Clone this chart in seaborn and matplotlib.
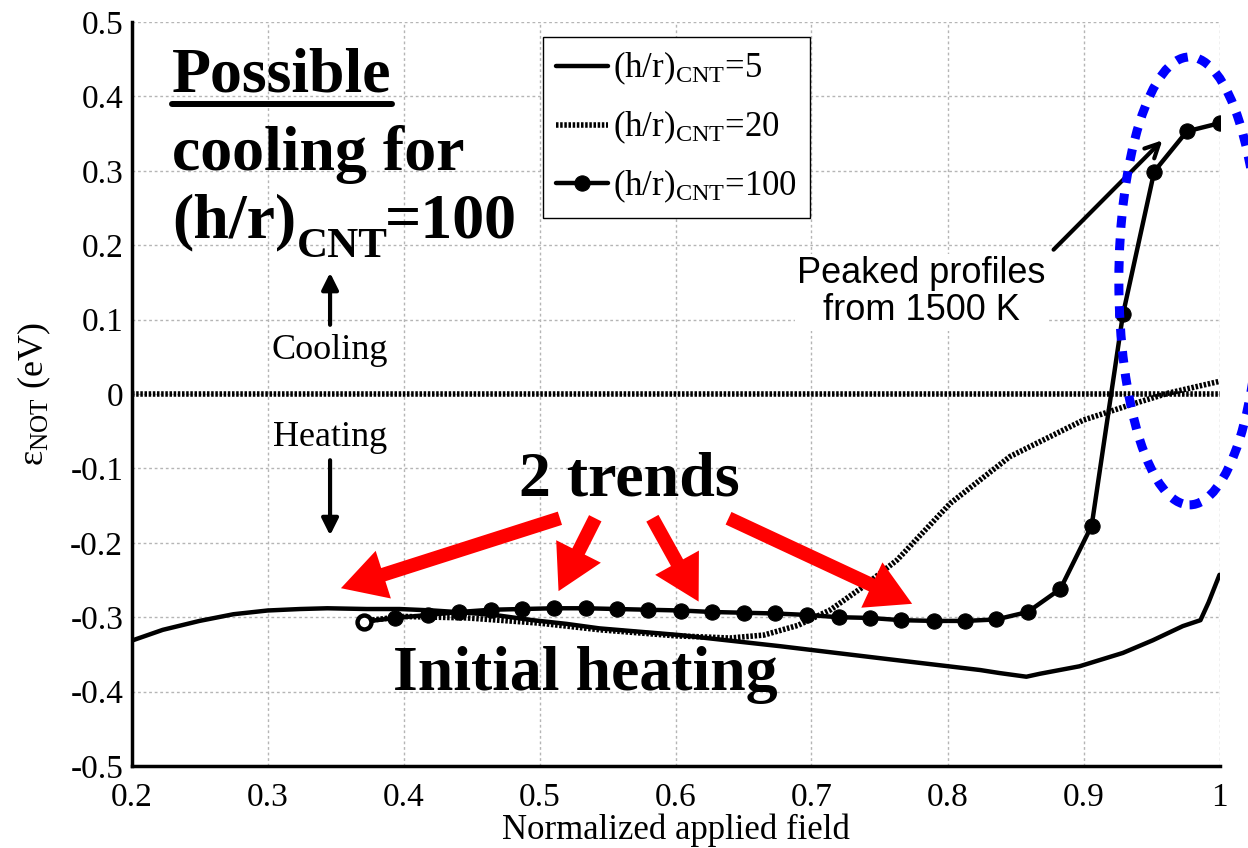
import seaborn as sns
import matplotlib.pyplot as plt
from matplotlib.lines import Line2D
from matplotlib.patches import Ellipse

# Values
x_hr5 = [0.201, 0.223, 0.250, 0.275, 0.300, 0.324, 0.344, 0.373, 0.397, 0.422,
         0.447, 0.471, 0.495, 0.520, 0.544, 0.603, 0.677, 0.750, 0.824, 0.838,
         0.858, 0.868, 0.897, 0.929, 0.951, 0.973, 0.986, 0.992, 1.000]
y_hr5 = [-0.331, -0.317, -0.305, -0.296, -0.291, -0.289, -0.288, -0.289, -0.289, -0.291,
         -0.294, -0.298, -0.304, -0.309, -0.315, -0.324, -0.339, -0.355, -0.371, -0.375,
         -0.380, -0.376, -0.366, -0.348, -0.331, -0.312, -0.304, -0.280, -0.243]

x_hr20 = [0.371, 0.400, 0.447, 0.500, 0.545, 0.600, 0.640, 0.665, 0.690, 0.714,
          0.738, 0.763, 0.802, 0.846, 0.900, 0.937, 0.962, 1.000]
y_hr20 = [-0.305, -0.299, -0.301, -0.308, -0.317, -0.325, -0.328, -0.324, -0.311, -0.290,
          -0.259, -0.223, -0.147, -0.084, -0.035, -0.013, 0.001, 0.017]

x_hr100 = [0.371, 0.394, 0.418, 0.441, 0.464, 0.487, 0.511, 0.534, 0.557, 0.580,
           0.604, 0.627, 0.650, 0.673, 0.697, 0.720, 0.743, 0.766, 0.790, 0.813,
           0.836, 0.859, 0.883, 0.906, 0.929, 0.952, 0.976, 1.000]
y_hr100 = [-0.306, -0.301, -0.297, -0.293, -0.290, -0.289, -0.288, -0.288, -0.289, -0.290,
           -0.291, -0.293, -0.294, -0.295, -0.297, -0.300, -0.301, -0.304, -0.305, -0.305,
           -0.303, -0.293, -0.262, -0.177, 0.107, 0.299, 0.353, 0.364]

series_labels = [r"(h/r)$_\mathrm{CNT}$=5", r"(h/r)$_\mathrm{CNT}$=20", r"(h/r)$_\mathrm{CNT}$=100"]

x_ticks = [0.2, 0.3, 0.4, 0.5, 0.6, 0.7, 0.8, 0.9, 1.0]
x_tick_labels = ["0.2", "0.3", "0.4", "0.5", "0.6", "0.7", "0.8", "0.9", "1"]
y_ticks = [-0.5, -0.4, -0.3, -0.2, -0.1, 0.0, 0.1, 0.2, 0.3, 0.4, 0.5]
y_tick_labels = ["-0.5", "-0.4", "-0.3", "-0.2", "-0.1", "0", "0.1", "0.2", "0.3", "0.4", "0.5"]

# red "2 trends" arrows: (tail, tip)
trend_arrows = [((0.515, -0.167), (0.354, -0.261)),
                ((0.541, -0.167), (0.514, -0.265)),
                ((0.583, -0.167), (0.617, -0.279)),
                ((0.639, -0.167), (0.774, -0.282))]

# Style
sns.set_style("white")
plt.rcParams["font.family"] = ["Liberation Serif", "DejaVu Serif"]
plt.rcParams["mathtext.fontset"] = "custom"
plt.rcParams["mathtext.rm"] = "Liberation Serif"
plt.rcParams["mathtext.it"] = "Liberation Serif:italic"
plt.rcParams["mathtext.bf"] = "Liberation Serif:bold"
for key in ["text.color", "axes.labelcolor", "xtick.color", "ytick.color"]:
    plt.rcParams[key] = "black"

DOT = (0, (0.45, 0.3))

fig = plt.figure(figsize=(12.48, 8.48), dpi=100)
ax = fig.add_axes([131.5 / 1248, 1 - 766 / 848, 1088 / 1248, 744 / 848])

ax.axhline(0, color="black", lw=4, linestyle=DOT, zorder=2)
sns.lineplot(x=x_hr5, y=y_hr5, ax=ax, color="black", lw=3.2, sort=False,
             estimator=None, label=series_labels[0], zorder=3)
sns.lineplot(x=x_hr20, y=y_hr20, ax=ax, color="black", lw=4, linestyle=DOT,
             sort=False, estimator=None, label=series_labels[1], zorder=3)
sns.lineplot(x=x_hr100, y=y_hr100, ax=ax, color="black", lw=3.2, marker="o",
             markersize=11, markerfacecolor="black", markeredgecolor="black",
             sort=False, estimator=None, label=series_labels[2], zorder=4)
# open first marker
ax.plot(x_hr100[:1], y_hr100[:1], "o", ms=10, mfc="white", mec="black", mew=3.2, zorder=5)

ax.set_xlim(0.2, 1.0)
ax.set_ylim(-0.5, 0.5)
ax.set_xticks(x_ticks, x_tick_labels)
ax.set_yticks(y_ticks, y_tick_labels)
ax.tick_params(direction="in", length=6, width=2.5, labelsize=24)
ax.tick_params(axis="x", pad=12)
ax.tick_params(axis="y", pad=6)
ax.grid(True, color="#b5b5b5", linestyle=(0, (2, 2)), linewidth=1)
for side in ["top", "right"]:
    ax.spines[side].set_visible(False)
for side in ["left", "bottom"]:
    ax.spines[side].set_linewidth(2.5)
    ax.spines[side].set_color("black")

ax.set_xlabel("Normalized applied field", fontsize=25, labelpad=0)
ax.set_ylabel(r"ε$_\mathrm{NOT}$ (eV)", fontsize=26, labelpad=12)

handles, labels = ax.get_legend_handles_labels()
leg = ax.legend(handles, labels, loc="upper left", bbox_to_anchor=(0.378, 0.98),
                borderaxespad=0, fontsize=25, frameon=True, fancybox=False,
                edgecolor="black", framealpha=1, handlelength=1.5,
                handletextpad=0.15, labelspacing=0.62, borderpad=0.38)
leg.get_frame().set_linewidth(1)

# Annotations
big = dict(fontsize=46, fontweight="bold", va="baseline", ha="left")
t_poss = ax.text(0.230, 0.406, "Possible", **big)
ax.text(0.230, 0.301, "cooling for", **big)
t_hr = ax.text(0.230, 0.211, "(h/r)", **big)

ax.text(0.346, 0.059, "Cooling", fontsize=26, ha="center", va="center")
ax.text(0.346, -0.058, "Heating", fontsize=26, ha="center", va="center")
ax.annotate("", xy=(0.346, 0.163), xytext=(0.346, 0.093),
            arrowprops=dict(arrowstyle="-|>", lw=3, color="black", mutation_scale=25,
                            shrinkA=0, shrinkB=0))
ax.annotate("", xy=(0.346, -0.190), xytext=(0.346, -0.089),
            arrowprops=dict(arrowstyle="-|>", lw=3, color="black", mutation_scale=25,
                            shrinkA=0, shrinkB=0))

ax.text(0.566, -0.116, "2 trends", fontsize=46, fontweight="bold", ha="center", va="center")
for tail, tip in trend_arrows:
    ax.annotate("", xy=tip, xytext=tail, zorder=6,
                arrowprops=dict(facecolor="red", edgecolor="none", width=10,
                                headwidth=36, headlength=32, shrink=0))

ax.text(0.534, -0.378, "Initial heating", fontsize=46, fontweight="bold",
        ha="center", va="center")

ax.text(0.781, 0.137, "Peaked profiles\nfrom 1500 K", fontsize=26,
        family=["Liberation Sans", "DejaVu Sans"], ha="center", va="center",
        linespacing=1.05, bbox=dict(facecolor="white", edgecolor="none", pad=2), zorder=6)
ax.annotate("", xy=(0.958, 0.341), xytext=(0.878, 0.194), zorder=6,
            arrowprops=dict(arrowstyle="->", lw=3, color="black", mutation_scale=25,
                            shrinkA=0, shrinkB=0))

ax.add_patch(Ellipse((0.978, 0.152), 0.104, 0.602, fill=False, edgecolor="blue",
                     lw=6.5, linestyle=(0, (1.3, 1.2)), clip_on=False, zorder=7))

# underline "Possible" and build the big subscripted label
fig.canvas.draw()
renderer = fig.canvas.get_renderer()
bb = t_poss.get_window_extent(renderer).transformed(fig.transFigure.inverted())
fig.add_artist(Line2D([bb.x0, bb.x1], [bb.y0 + 0.002, bb.y0 + 0.002],
                      transform=fig.transFigure, color="black", lw=4.3))

inv = ax.transData.inverted()
x_end = inv.transform(t_hr.get_window_extent(renderer).get_points()[1])[0]
t_sub = ax.text(x_end, 0.184, "CNT", fontsize=31, fontweight="bold", va="baseline", ha="left")
fig.canvas.draw()
x_end = inv.transform(t_sub.get_window_extent(renderer).get_points()[1])[0]
ax.text(x_end - 0.002, 0.211, "=100", **big)

fig.savefig("out.png", dpi=100)
